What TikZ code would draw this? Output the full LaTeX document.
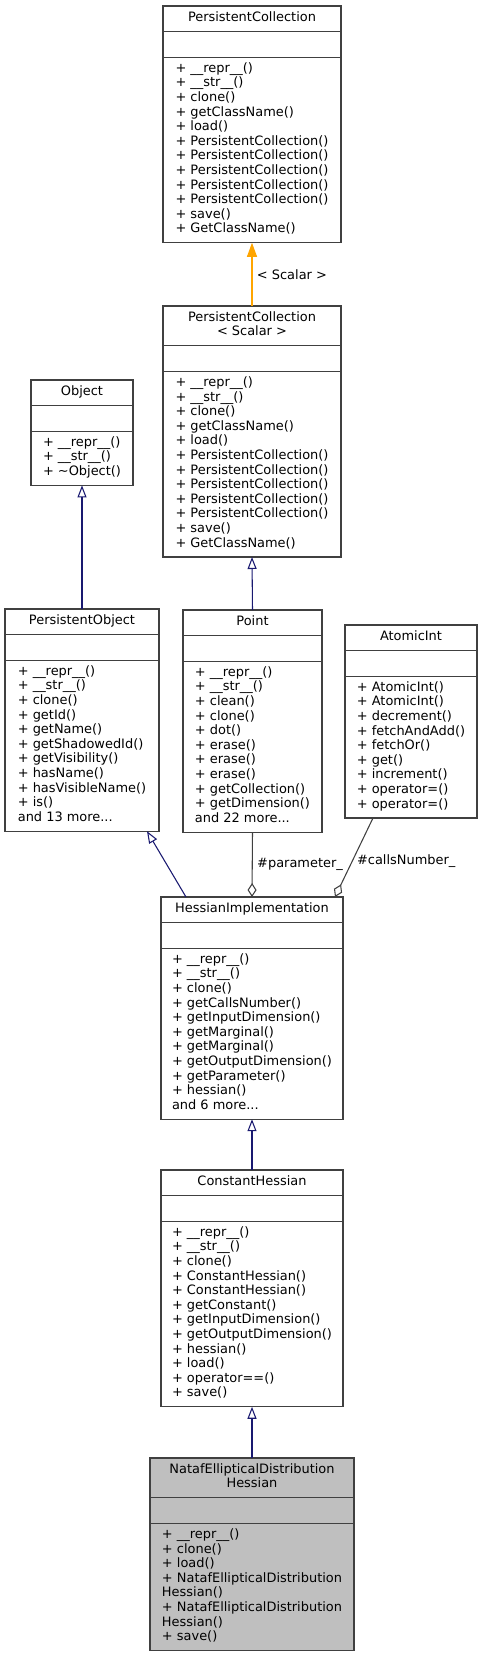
\documentclass[tikz,border=0pt]{standalone}
\usepackage{fontspec}
\setmainfont{DejaVu Sans}
\usetikzlibrary{arrows.meta, positioning}
\definecolor{boxgray}{HTML}{404040}
\definecolor{inheritblue}{HTML}{191970}
\definecolor{tmplorange}{HTML}{FFA500}
\definecolor{edgegray}{HTML}{404040}
\definecolor{targetfill}{HTML}{BFBFBF}

\tikzset{
  part/.style={draw=boxgray, fill=white, inner xsep=0pt, inner ysep=4.1pt, outer sep=0pt,
    execute at begin node={\strut}, execute at end node={\strut}},
  head/.style={part, align=center},
  ops/.style={part, align=left},
  inherit/.style={draw=inheritblue, -{Triangle[open, length=9pt, width=6.75pt]}},
  tmpl/.style={draw=tmplorange, -{Triangle[length=10.5pt, width=7.5pt]}},
  aggr/.style={draw=edgegray, -{Diamond[open, length=10.5pt, width=6.75pt]}}
}

\begin{document}
\begin{tikzpicture}[x=0.75pt, y=-0.75pt, line width=0.8pt, font=\fontsize{9.7}{10.95}\selectfont]
  \useasboundingbox (0,0) rectangle (482,1657);

  % PersistentCollection
  \node[head, minimum width=133.5pt, anchor=north west] (pc-head) at (163,6) {PersistentCollection};
  \node[part, minimum width=133.5pt, below=0pt of pc-head] (pc-attr) {};
  \node[ops, minimum width=133.5pt, below=0pt of pc-attr] (pc-ops) {%
    + \_\_repr\_\_()\\ + \_\_str\_\_()\\ + clone()\\ + getClassName()\\ + load()\\
    + PersistentCollection()\\ + PersistentCollection()\\ + PersistentCollection()\\
    + PersistentCollection()\\ + PersistentCollection()\\ + save()\\ + GetClassName()};

  % PersistentCollection< Scalar >
  \node[head, minimum width=133.5pt, anchor=north west] (pcs-head) at (163,306) {PersistentCollection\\< Scalar >};
  \node[part, minimum width=133.5pt, below=0pt of pcs-head] (pcs-attr) {};
  \node[ops, minimum width=133.5pt, below=0pt of pcs-attr] (pcs-ops) {%
    + \_\_repr\_\_()\\ + \_\_str\_\_()\\ + clone()\\ + getClassName()\\ + load()\\
    + PersistentCollection()\\ + PersistentCollection()\\ + PersistentCollection()\\
    + PersistentCollection()\\ + PersistentCollection()\\ + save()\\ + GetClassName()};

  % Object
  \node[head, minimum width=76.5pt, anchor=north west] (object-head) at (31,380) {Object};
  \node[part, minimum width=76.5pt, below=0pt of object-head] (object-attr) {};
  \node[ops, minimum width=76.5pt, below=0pt of object-attr] (object-ops) {%
    + \_\_repr\_\_()\\ + \_\_str\_\_()\\ + \textasciitilde Object()};

  % PersistentObject
  \node[head, minimum width=115.5pt, anchor=north west] (po-head) at (5,609) {PersistentObject};
  \node[part, minimum width=115.5pt, below=0pt of po-head] (po-attr) {};
  \node[ops, minimum width=115.5pt, below=0pt of po-attr] (po-ops) {%
    + \_\_repr\_\_()\\ + \_\_str\_\_()\\ + clone()\\ + getId()\\ + getName()\\
    + getShadowedId()\\ + getVisibility()\\ + hasName()\\ + hasVisibleName()\\
    + is()\\ and 13 more...};

  % Point
  \node[head, minimum width=104.25pt, anchor=north west] (point-head) at (183,610) {Point};
  \node[part, minimum width=104.25pt, below=0pt of point-head] (point-attr) {};
  \node[ops, minimum width=104.25pt, below=0pt of point-attr] (point-ops) {%
    + \_\_repr\_\_()\\ + \_\_str\_\_()\\ + clean()\\ + clone()\\ + dot()\\
    + erase()\\ + erase()\\ + erase()\\ + getCollection()\\ + getDimension()\\
    and 22 more...};

  % AtomicInt
  \node[head, minimum width=99pt, anchor=north west] (atomic-head) at (345,625) {AtomicInt};
  \node[part, minimum width=99pt, below=0pt of atomic-head] (atomic-attr) {};
  \node[ops, minimum width=99pt, below=0pt of atomic-attr] (atomic-ops) {%
    + AtomicInt()\\ + AtomicInt()\\ + decrement()\\ + fetchAndAdd()\\ + fetchOr()\\
    + get()\\ + increment()\\ + operator=()\\ + operator=()};

  % HessianImplementation
  \node[head, minimum width=136.5pt, anchor=north west] (hi-head) at (161,897) {HessianImplementation};
  \node[part, minimum width=136.5pt, below=0pt of hi-head] (hi-attr) {};
  \node[ops, minimum width=136.5pt, below=0pt of hi-attr] (hi-ops) {%
    + \_\_repr\_\_()\\ + \_\_str\_\_()\\ + clone()\\ + getCallsNumber()\\
    + getInputDimension()\\ + getMarginal()\\ + getMarginal()\\
    + getOutputDimension()\\ + getParameter()\\ + hessian()\\ and 6 more...};

  % ConstantHessian
  \node[head, minimum width=136.5pt, anchor=north west] (ch-head) at (161,1170) {ConstantHessian};
  \node[part, minimum width=136.5pt, below=0pt of ch-head] (ch-attr) {};
  \node[ops, minimum width=136.5pt, below=0pt of ch-attr] (ch-ops) {%
    + \_\_repr\_\_()\\ + \_\_str\_\_()\\ + clone()\\ + ConstantHessian()\\
    + ConstantHessian()\\ + getConstant()\\ + getInputDimension()\\
    + getOutputDimension()\\ + hessian()\\ + load()\\ + operator==()\\ + save()};

  % NatafEllipticalDistributionHessian
  \node[head, fill=targetfill, minimum width=153pt, anchor=north west] (nedh-head) at (150,1458) {NatafEllipticalDistribution\\Hessian};
  \node[part, fill=targetfill, minimum width=153pt, below=0pt of nedh-head] (nedh-attr) {};
  \node[ops, fill=targetfill, minimum width=153pt, below=0pt of nedh-attr] (nedh-ops) {%
    + \_\_repr\_\_()\\ + clone()\\ + load()\\ + NatafEllipticalDistribution\\
    Hessian()\\ + NatafEllipticalDistribution\\ Hessian()\\ + save()};

  % connectors
  \draw[tmpl] (pcs-head.north) -- (pc-ops.south) node[midway, right] {< Scalar >};
  \draw[inherit] (point-head.north) -- (pcs-ops.south);
  \draw[inherit] (po-head.north) -- (object-ops.south);
  \draw[inherit] ([xshift=18.75pt]hi-head.north west) -- ([xshift=-9pt]po-ops.south east);
  \draw[aggr] (point-ops.south) -- (hi-head.north) node[midway, right] {\#parameter\_};
  \draw[aggr] ([xshift=21pt]atomic-ops.south west) -- ([xshift=-6pt]hi-head.north east)
    node[pos=0.55, right] {\#callsNumber\_};
  \draw[inherit] (ch-head.north) -- (hi-ops.south);
  \draw[inherit] (nedh-head.north) -- (ch-ops.south);
\end{tikzpicture}
\end{document}
